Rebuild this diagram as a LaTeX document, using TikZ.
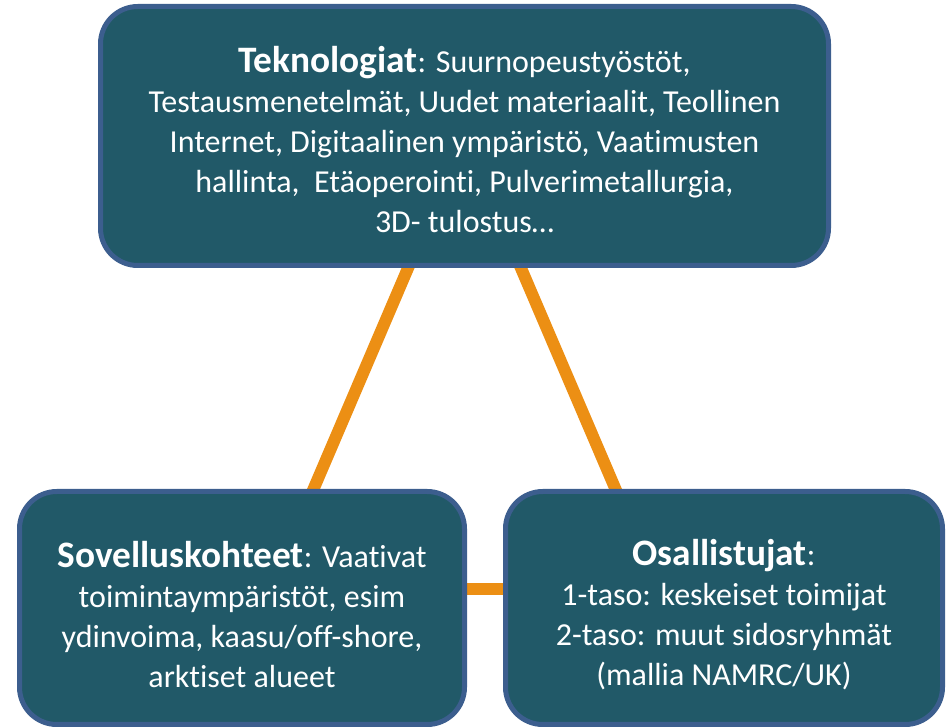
\documentclass[tikz,border=0pt]{standalone}
\usepackage{fontspec}
\setmainfont{Carlito}[Ligatures=NoCommon]
\usepackage{tikz}
\usetikzlibrary{backgrounds}
\definecolor{boxfill}{HTML}{215968}
\definecolor{boxline}{HTML}{3C5E8E}
\definecolor{linkorange}{HTML}{EC8F14}
\newcommand{\otsikko}[1]{{\fontsize{28}{30}\selectfont\bfseries #1}}

\begin{document}
\begin{tikzpicture}[x=0.75pt, y=0.75pt]
                \useasboundingbox (0,0) rectangle (946,728);
                \begin{scope}[every node/.style={draw=boxline, fill=boxfill, line width=3.75pt, rounded corners=28pt, text=white, align=center, inner sep=0pt, font=\fontsize{24}{30}\selectfont}]
                        \node [minimum width=546pt, minimum height=194.25pt] (Tek) at (464.5,592) {\rule{0pt}{25.5pt}\otsikko{Teknologiat}: Suurnopeustyöstöt,\\Testausmenetelmät, Uudet materiaalit, Teollinen\\Internet, Digitaalinen ympäristö, Vaatimusten\\hallinta,\ \ Etäoperointi, Pulverimetallurgia,\\3D- tulostus…};
                        \node [minimum width=333.75pt, minimum height=174.75pt] (Sov) at (242,120) {\rule{0pt}{30pt}\otsikko{Sovelluskohteet}: Vaativat\\toimintaympäristöt, esim\\ydinvoima, kaasu/off-shore,\\arktiset alueet};
                        \node [minimum width=327.75pt, minimum height=174.75pt] (Osa) at (724,120) {\rule{0pt}{30pt}\otsikko{Osallistujat}:\\1-taso: keskeiset toimijat\\2-taso: muut sidosryhmät\\(mallia NAMRC/UK)};
                \end{scope}

                \coordinate (SovIn) at (305,219);
                \coordinate (OsaIn) at (624,219);
                \begin{scope}[on background layer, every path/.style={draw=linkorange, line width=9pt}]
                        \path (Tek.center) -- (SovIn);
                        \path (Tek.center) -- (OsaIn);
                        \path ([yshift=14.25pt]Sov.east) -- ([yshift=14.25pt]Osa.west);
                \end{scope}
        \end{tikzpicture}
\end{document}
